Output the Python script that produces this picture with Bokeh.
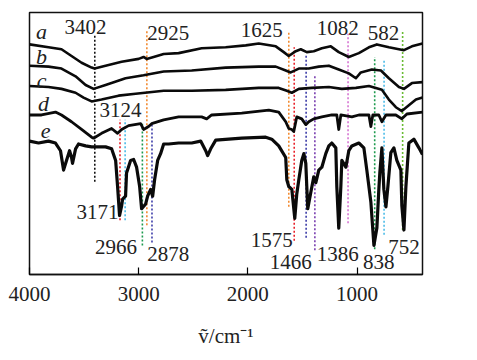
from bokeh.plotting import figure
from bokeh.models import FixedTicker, Range1d, ColumnDataSource
from bokeh.core.properties import value
from bokeh.embed import file_html
from bokeh.resources import INLINE

# ---- data (wavenumber / cm^-1, relative transmittance offset) ----
a_wn = [4000, 3826, 3707, 3615, 3523, 3431, 3404, 3303, 3156, 3000, 2955, 2927, 2863, 2771, 2634, 2423, 2203, 2019, 1900, 1744, 1671, 1625, 1561, 1515, 1460, 1396, 1322, 1240, 1167, 1075, 983, 891, 818, 708, 616, 570, 497, 400]
a_t = [238, 235, 233, 226, 219, 214, 213, 216, 220, 223, 225, 223, 225, 228, 229, 234, 235, 237, 239, 236, 230, 226, 231, 233, 230, 231, 234, 236, 230, 225, 229, 235, 238, 235, 233, 232, 236, 239]

b_wn = [4000, 3826, 3707, 3578, 3486, 3413, 3303, 3120, 2955, 2771, 2514, 2203, 1900, 1744, 1653, 1607, 1533, 1442, 1350, 1258, 1167, 1075, 1010, 965, 864, 781, 708, 616, 570, 497, 400]
b_t = [216, 215, 213, 205, 196, 192, 196, 203, 206, 210, 211, 214, 215, 215, 211, 209, 213, 213, 215, 216, 212, 208, 203, 209, 212, 211, 203, 194, 192, 198, 199]

c_wn = [4000, 3826, 3707, 3578, 3505, 3431, 3340, 3184, 3028, 2771, 2514, 2203, 1900, 1717, 1643, 1597, 1533, 1414, 1258, 1139, 1010, 891, 772, 708, 644, 589, 525, 460, 400]
c_t = [195, 194, 192, 188, 183, 179, 181, 185, 187, 190, 190, 191, 193, 193, 190, 188, 192, 193, 194, 192, 193, 195, 191, 181, 173, 169, 175, 181, 183]

d_wn = [4000, 3890, 3762, 3707, 3615, 3523, 3431, 3413, 3340, 3248, 3193, 3156, 3092, 2982, 2955, 2909, 2881, 2771, 2634, 2423, 2377, 2331, 2056, 1808, 1717, 1653, 1625, 1597, 1579, 1552, 1506, 1469, 1442, 1396, 1322, 1231, 1185, 1167, 1148, 1047, 983, 891, 873, 855, 800, 772, 735, 644, 589, 543, 400]
d_t = [165, 165, 168, 165, 158, 150, 142, 141, 146, 151, 146, 150, 154, 156, 150, 153, 156, 160, 163, 163, 161, 165, 167, 170, 168, 158, 151, 150, 148, 163, 161, 155, 158, 161, 163, 165, 165, 150, 165, 163, 165, 165, 153, 165, 165, 158, 165, 165, 161, 166, 168]

e_wn = [4000, 3917, 3826, 3762, 3716, 3688, 3661, 3633, 3615, 3606, 3578, 3551, 3486, 3431, 3303, 3248, 3211, 3193, 3175, 3156, 3147, 3120, 3111, 3074, 3046, 3019, 2991, 2973, 2936, 2918, 2890, 2872, 2854, 2826, 2799, 2771, 2725, 2634, 2514, 2432, 2386, 2368, 2340, 2294, 2056, 1836, 1781, 1717, 1653, 1643, 1625, 1597, 1570, 1552, 1533, 1506, 1487, 1469, 1460, 1451, 1423, 1396, 1377, 1350, 1322, 1286, 1258, 1231, 1194, 1185, 1167, 1148, 1139, 1102, 1075, 1047, 983, 937, 910, 873, 845, 818, 800, 791, 772, 754, 735, 717, 690, 662, 635, 598, 589, 570, 552, 525, 479, 433, 400]
e_t = [138, 136, 138, 136, 128, 108, 118, 128, 121, 115, 130, 135, 133, 132, 132, 130, 118, 91, 61, 71, 78, 81, 105, 118, 119, 111, 91, 68, 73, 81, 88, 81, 98, 118, 125, 135, 135, 136, 136, 138, 128, 123, 130, 139, 141, 142, 140, 133, 121, 98, 91, 88, 58, 83, 98, 118, 125, 115, 91, 68, 85, 101, 95, 108, 111, 125, 133, 136, 131, 91, 48, 91, 118, 111, 128, 133, 136, 131, 108, 75, 30, 48, 88, 105, 131, 88, 70, 91, 126, 131, 118, 108, 71, 46, 91, 136, 140, 131, 124]

curve_names = ["a", "b", "c", "d", "e"]
curve_label_wn = [3890, 3890, 3890, 3872, 3853]
curve_label_t = [251, 225, 201, 177, 148]

peak_wn = [3402, 2925, 3171, 3124, 2966, 2878, 1625, 1575, 1466, 1386, 1082, 838, 752, 582]
peak_top = [247, 253, 160, 160, 156, 156, 250, 235, 228, 206, 249, 225, 221, 251]
peak_bottom = [96, 51, 56, 56, 30, 33, 70, 35, 38, 25, 53, 26, 41, 46]
peak_colors = ["#111111", "#f28a30", "#e8202a", "#4cbce8", "#1c9a4e", "#3c3ca8", "#f28a30", "#e8202a", "#3c3ca8", "#7a3fb0", "#d674d2", "#1c9a4e", "#4cbce8", "#6abb34"]

peak_text = ["3402", "2925", "3124", "3171", "2966", "2878", "1625", "1575", "1466", "1386", "1082", "838", "752", "582"]
peak_text_wn = [3486, 2730, 3166, 3184, 3207, 2730, 1873, 1781, 1607, 1176, 1176, 800, 570, 758]
peak_text_t = [256, 250, 170, 65, 28, 21, 253, 36, 13, 21, 255, 13, 28, 250]
peak_text_align = ["center", "center", "center", "right", "center", "center", "center", "center", "center", "center", "center", "center", "center", "center"]

x_ticks = [4000, 3000, 2000, 1000]

SERIF = "Liberation Serif"

# ---- figure ----
p = figure(width=460, height=350, output_backend="svg", toolbar_location=None,
           x_range=Range1d(4000, 400), y_range=Range1d(0, 271))
p.min_border_left = 29
p.min_border_top = 12
p.min_border_right = 38
p.min_border_bottom = 67
p.grid.visible = False
p.yaxis.visible = False
p.outline_line_color = "#111111"
p.outline_line_width = 1.5
p.background_fill_color = "white"
p.border_fill_color = "white"

xa = p.xaxis[0]
xa.ticker = FixedTicker(ticks=x_ticks)
xa.minor_tick_line_color = None
xa.major_tick_in = 7
xa.major_tick_out = 0
xa.axis_line_width = 1.5
xa.axis_line_color = "#111111"
xa.major_tick_line_width = 1.2
xa.major_label_text_font = SERIF
xa.major_label_text_font_size = "21px"
xa.major_label_text_color = "#222222"
xa.major_label_standoff = 12
xa.axis_label = "ṽ/cm⁻¹"
xa.axis_label_text_font = SERIF
xa.axis_label_text_font_style = "normal"
xa.axis_label_text_font_size = "21px"
xa.axis_label_text_color = "#222222"
xa.axis_label_standoff = 20

# dotted marker lines
seg_src = ColumnDataSource(dict(x=peak_wn, y0=peak_bottom, y1=peak_top, c=peak_colors))
p.segment(x0="x", y0="y0", x1="x", y1="y1", color="c", line_width=1.6,
          line_dash="2 2", source=seg_src)

# spectra
for wn, t, lw in [(a_wn, a_t, 2.6), (b_wn, b_t, 2.6), (c_wn, c_t, 2.6), (d_wn, d_t, 2.8), (e_wn, e_t, 3.2)]:
    p.line(wn, t, line_color="#0a0a0a", line_width=lw, line_join="round")

# curve names
p.text(x=curve_label_wn, y=curve_label_t, text=curve_names,
       text_font=value(SERIF), text_font_style="italic",
       text_font_size="22px", text_align="center", text_baseline="middle",
       text_color="#222222")

# peak labels
txt_src = ColumnDataSource(dict(x=peak_text_wn, y=peak_text_t, t=peak_text, al=peak_text_align))
p.text(x="x", y="y", text="t", text_align="al", source=txt_src,
       text_font=value(SERIF), text_font_size="21px",
       text_baseline="middle", text_color="#222222")

open("out.html", "w").write(file_html(p, INLINE))
